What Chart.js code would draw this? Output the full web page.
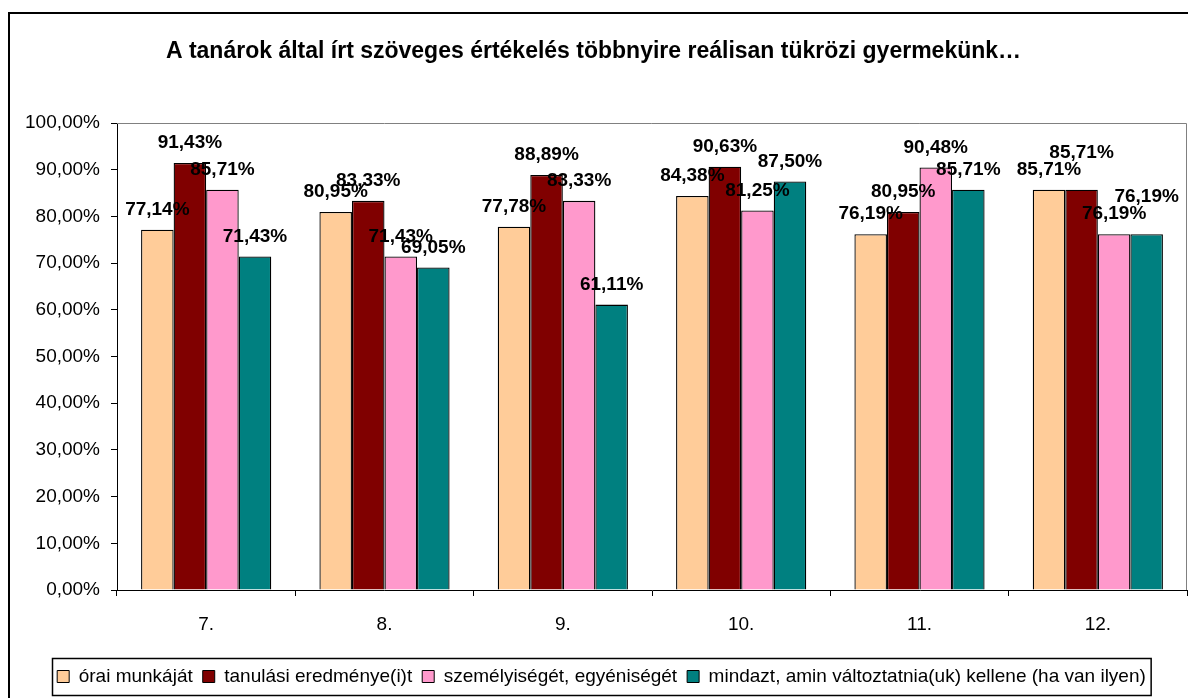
<!DOCTYPE html>
<html>
<head>
<meta charset="utf-8">
<script src="https://cdn.jsdelivr.net/npm/chart.js@4.4.0/dist/chart.umd.min.js"></script>
<style>
  html, body { margin: 0; padding: 0; background: #fff; }
  #wrap { width: 1188px; height: 698px; position: relative; }
</style>
</head>
<body>
<div id="wrap"><canvas id="myChart"></canvas></div>
<script>
// évfolyamok
var grades = ["7.", "8.", "9.", "10.", "11.", "12."];
var seriesNames = ["órai munkáját", "tanulási eredménye(i)t", "személyiségét, egyéniségét", "mindazt, amin változtatnia(uk) kellene (ha van ilyen)"];
var oraiMunka = [77.14, 80.95, 77.78, 84.38, 76.19, 85.71];
var tanulasiEredmeny = [91.43, 83.33, 88.89, 90.63, 80.95, 85.71];
var szemelyiseg = [85.71, 71.43, 83.33, 81.25, 90.48, 76.19];
var mindazt = [71.43, 69.05, 61.11, 87.50, 85.71, 76.19];
var yTicks = [0, 10, 20, 30, 40, 50, 60, 70, 80, 90, 100];
var barColors = ["#FFCC99", "#800000", "#FF99CC", "#008080"];

var FONT = "Arial, 'Liberation Sans', sans-serif";

function pct(v) {
  return v.toFixed(2).replace(".", ",") + "%";
}

var frame = {
  id: "frame",
  afterLayout: function (chart) {
    // legend sits a bit right of centre in the original
    var lg = chart.legend;
    if (!lg) return;
    lg.left += 8;
    lg.right += 8;
    lg.legendHitBoxes.forEach(function (h) { h.left += 8; });
  },
  afterDraw: function (chart) {
    var ctx = chart.ctx;
    var a = chart.chartArea;
    ctx.save();
    // plot area top/right edge
    ctx.strokeStyle = "#808080";
    ctx.lineWidth = 1;
    ctx.beginPath();
    ctx.moveTo(a.left, a.top + 0.5);
    ctx.lineTo(a.right - 0.5, a.top + 0.5);
    ctx.lineTo(a.right - 0.5, a.bottom);
    ctx.stroke();
    // data labels, pushed up when they sit on top of each other
    ctx.fillStyle = "#000";
    ctx.font = "bold 19px " + FONT;
    ctx.textAlign = "center";
    ctx.textBaseline = "middle";
    var placed = grades.map(function () { return []; });
    chart.data.datasets.forEach(function (ds, i) {
      chart.getDatasetMeta(i).data.forEach(function (bar, j) {
        var txt = pct(ds.data[j]);
        var w = ctx.measureText(txt).width;
        var x = bar.x, y = bar.y - 20;
        var hit = true;
        while (hit) {
          hit = placed[j].some(function (p) {
            return Math.abs(p.x - x) < (p.w + w) / 2 && Math.abs(p.y - y) < 10;
          });
          if (hit) y -= 17;
        }
        placed[j].push({ x: x, y: y, w: w });
        ctx.fillText(txt, x, y);
      });
    });
    // legend box
    var lg = chart.legend;
    if (lg && lg.legendHitBoxes.length) {
      var hb = lg.legendHitBoxes;
      var l = hb[0].left - 5, r = hb[hb.length - 1].left + hb[hb.length - 1].width + 5;
      ctx.strokeStyle = "#000";
      ctx.lineWidth = 1.5;
      ctx.strokeRect(Math.round(l) + 0.5, hb[0].top - 8.5, r - l, 37);
    }
    // outer border
    ctx.lineWidth = 2;
    ctx.strokeStyle = "#000";
    ctx.strokeRect(9, 13, 1200, 700);
    ctx.restore();
  }
};

var names = [oraiMunka, tanulasiEredmeny, szemelyiseg, mindazt];
var datasets = names.map(function (arr, i) {
  return {
    label: seriesNames[i],
    data: arr,
    backgroundColor: barColors[i],
    borderColor: "#000",
    borderWidth: 1.3,
    categoryPercentage: 0.73,
    barPercentage: 1.0
  };
});

var c = new Chart("myChart", {
  type: "bar",
  data: { labels: grades, datasets: datasets },
  options: {
    responsive: true,
    maintainAspectRatio: false,
    animation: false,
    layout: { padding: { left: 0, right: 1, top: 0, bottom: 2 } },
    plugins: {
      title: {
        display: true,
        text: "A tanárok által írt szöveges értékelés többnyire reálisan tükrözi gyermekünk…",
        color: "#000",
        font: { family: FONT, size: 23, weight: "bold", lineHeight: 1.2 },
        padding: { top: 38, bottom: 57.4 }
      },
      legend: {
        position: "bottom",
        labels: {
          color: "#000",
          font: { family: FONT, size: 19 },
          boxWidth: 12,
          boxHeight: 12,
          padding: 10,
          generateLabels: function (chart) {
            return chart.data.datasets.map(function (ds, i) {
              return {
                text: ds.label,
                fillStyle: ds.backgroundColor,
                strokeStyle: "#000",
                lineWidth: 1,
                datasetIndex: i
              };
            });
          }
        }
      },
      tooltip: { enabled: false }
    },
    scales: {
      x: {
        grid: { display: true, drawOnChartArea: false, drawTicks: true, tickLength: 6, color: "#000", offset: true },
        border: { color: "#000", width: 1 },
        ticks: { color: "#000", font: { family: FONT, size: 19 }, padding: 17 },
        afterFit: function (s) { s.height = 67; }
      },
      y: {
        min: 0,
        max: 100,
        afterBuildTicks: function (s) { s.ticks = yTicks.map(function (v) { return { value: v }; }); },
        grid: { display: true, drawOnChartArea: false, drawTicks: true, tickLength: 6, color: "#000" },
        border: { color: "#000", width: 1 },
        ticks: {
          color: "#000",
          font: { family: FONT, size: 19 },
          padding: 11,
          callback: function (v) { return pct(v); }
        },
        afterFit: function (s) { s.width = 117; }
      }
    }
  },
  plugins: [frame]
});
</script>
</body>
</html>
